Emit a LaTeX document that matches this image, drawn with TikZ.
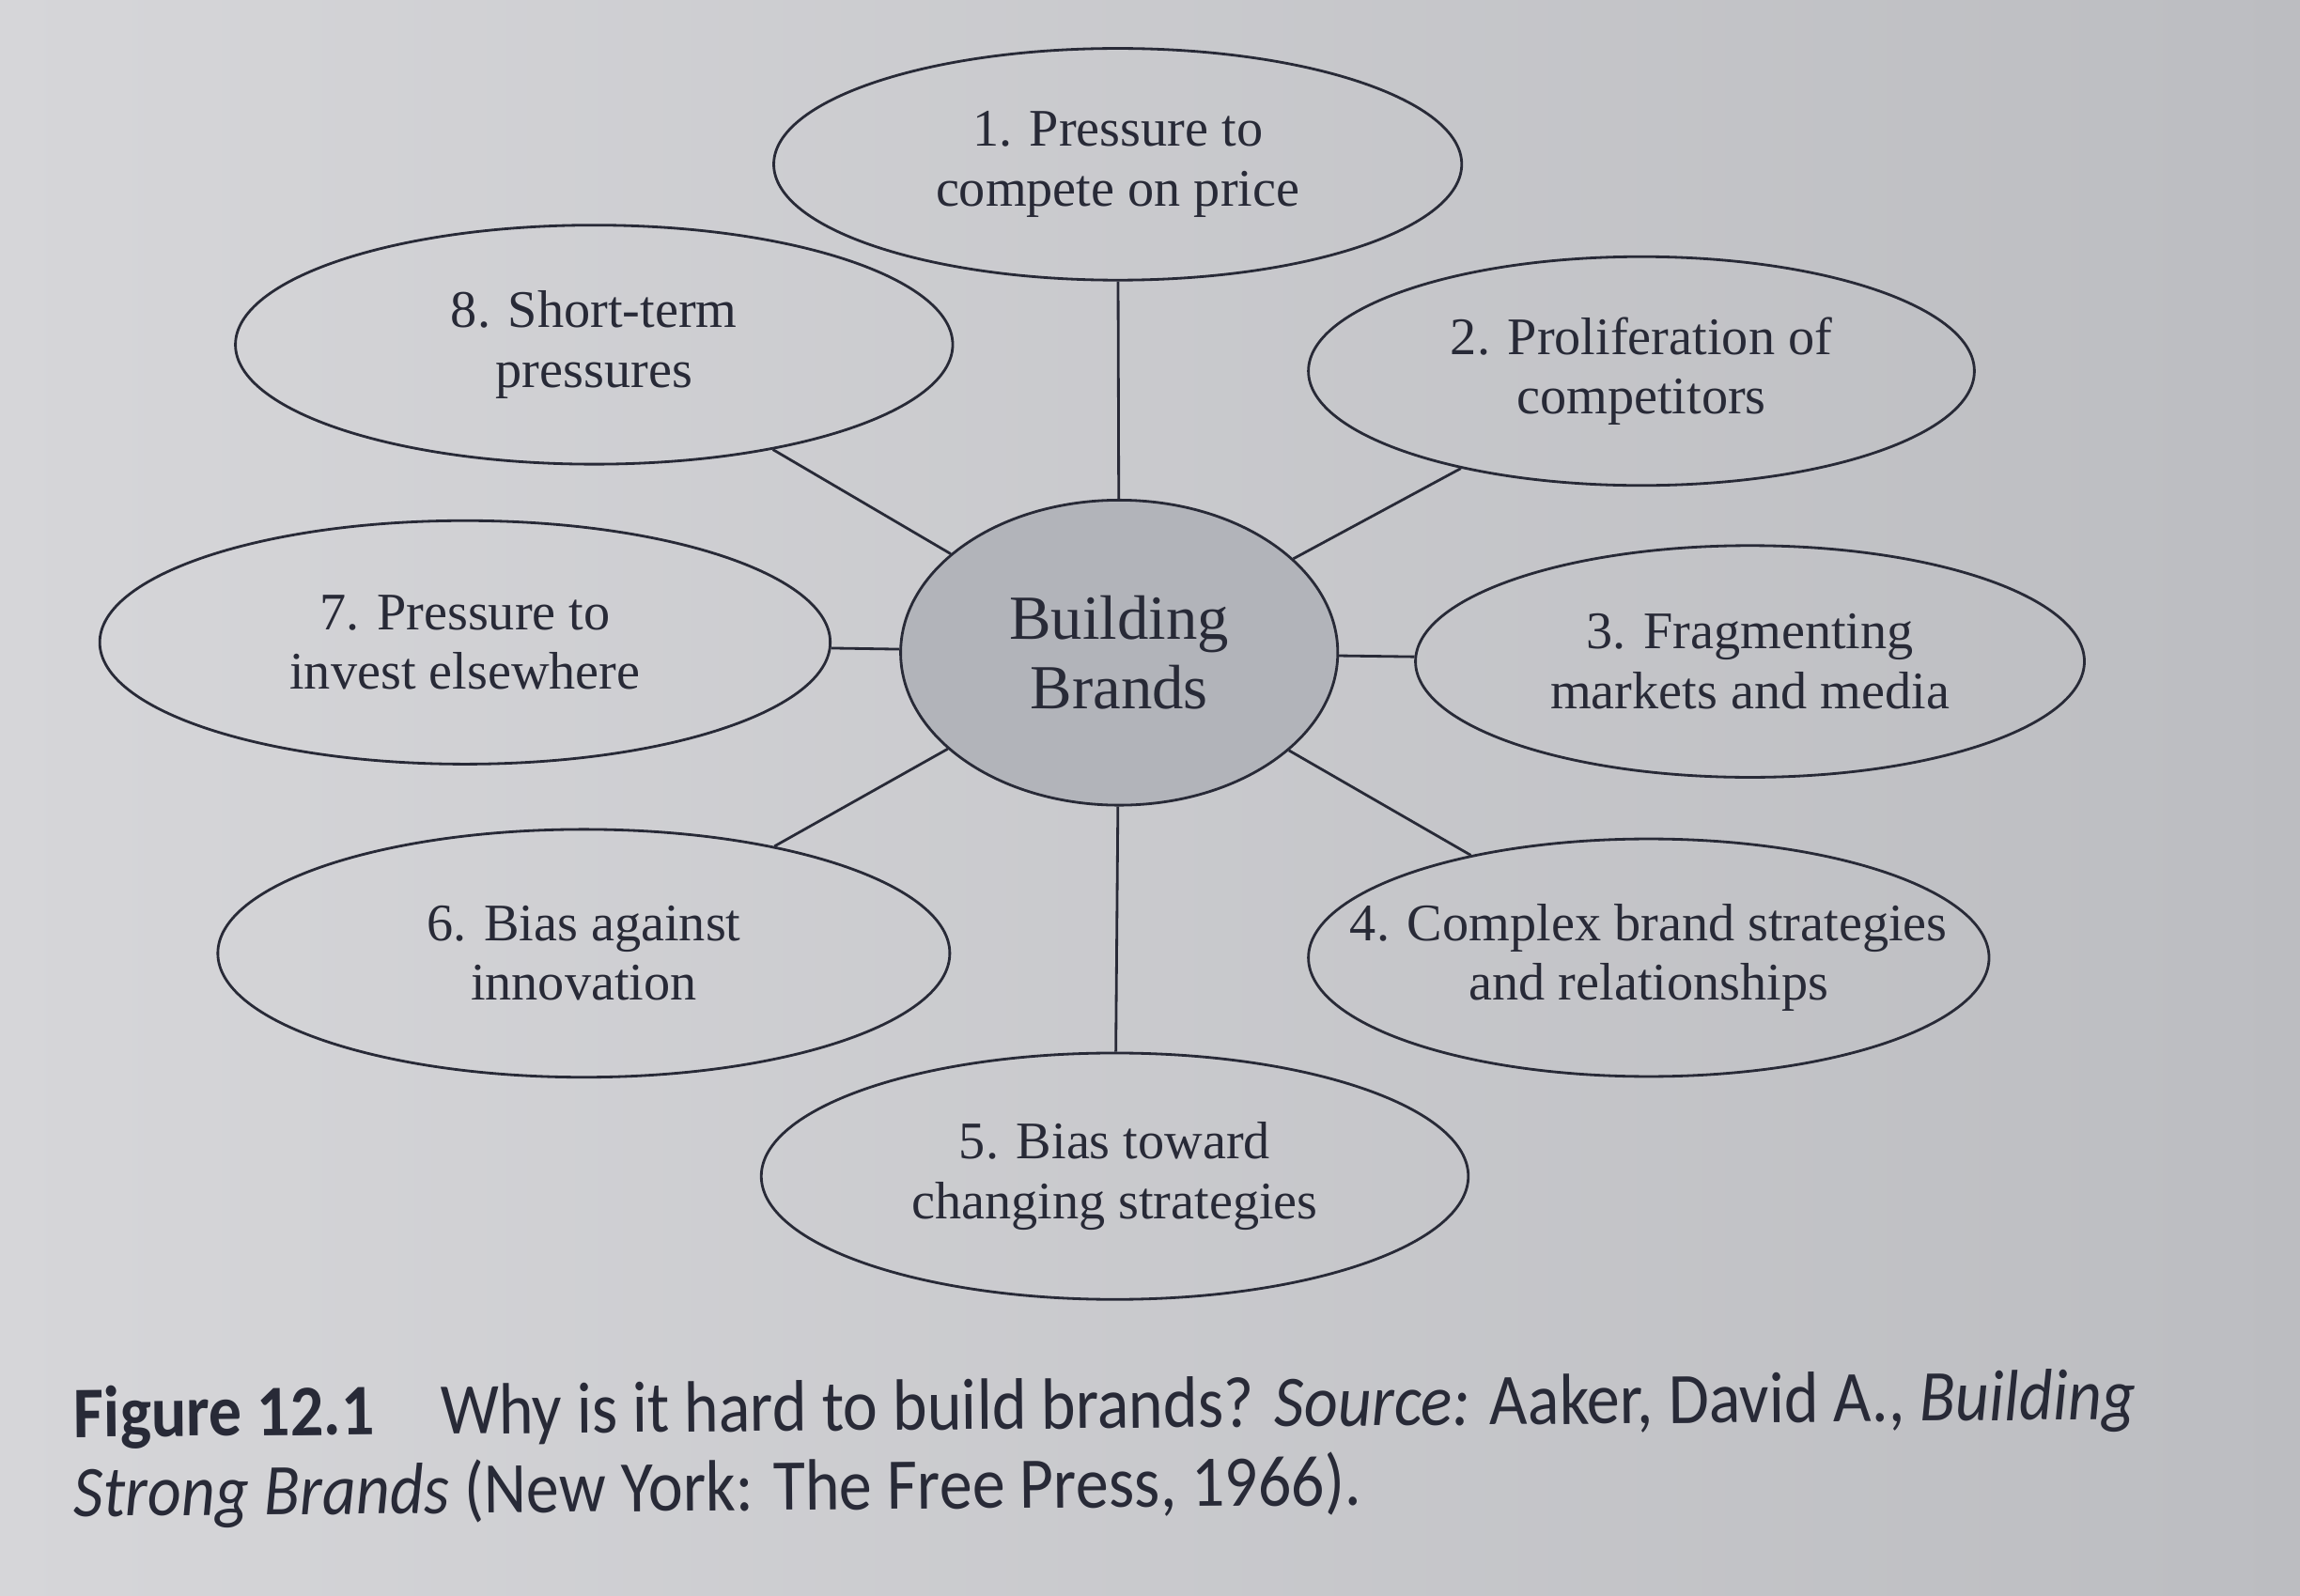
\documentclass[tikz,border=0pt]{standalone}
\usepackage{fontspec}
\setmainfont{Liberation Serif}
\newfontfamily\capfont{Carlito}
\usepackage{tikz}
\usetikzlibrary{shapes.geometric}
\definecolor{paperlight}{RGB}{214,214,217}
\definecolor{paperdark}{RGB}{188,189,193}
\definecolor{hubfill}{RGB}{178,180,186}
\definecolor{ink}{RGB}{40,42,55}

\begin{document}
\begin{tikzpicture}[x=0.015612cm, y=-0.015612cm,
	bubble/.style={ellipse, draw=ink, thick, inner sep=0pt, align=center, text=ink, font=\fontsize{16}{18}\selectfont},
	hub/.style={bubble, fill=hubfill, font=\fontsize{19}{21}\selectfont},
	spoke/.style={draw=ink, thick},
	capline/.style={anchor=base west, text=ink, inner sep=0pt, rotate=0.5, font=\capfont\fontsize{22}{24}\selectfont}]
	\shade [left color=paperlight, right color=paperdark] (0,0) rectangle (1568,1088);
	\useasboundingbox (0,0) rectangle (1568,1088);
	\node [hub, minimum width=298*0.015612cm, minimum height=208*0.015612cm] (brands) at (763,445) {Building\\Brands};
	\node [bubble, minimum width=469*0.015612cm, minimum height=158*0.015612cm] (price) at (762,112) {1. Pressure to\\compete on price};
	\node [bubble, minimum width=454*0.015612cm, minimum height=156*0.015612cm] (rivals) at (1119,253) {2. Proliferation of\\competitors};
	\node [bubble, minimum width=456*0.015612cm, minimum height=158*0.015612cm] (media) at (1193,451) {3. Fragmenting\\markets and media};
	\node [bubble, minimum width=464*0.015612cm, minimum height=162*0.015612cm] (complex) at (1124,653) {\makebox[0pt]{4. Complex brand strategies}\\\makebox[0pt]{and relationships}};
	\node [bubble, minimum width=482*0.015612cm, minimum height=168*0.015612cm] (change) at (760,802) {5. Bias toward\\changing strategies};
	\node [bubble, minimum width=499*0.015612cm, minimum height=169*0.015612cm] (innov) at (398,650) {6. Bias against\\innovation};
	\node [bubble, minimum width=498*0.015612cm, minimum height=166*0.015612cm] (invest) at (317,438) {7. Pressure to\\invest elsewhere};
	\node [bubble, minimum width=489*0.015612cm, minimum height=163*0.015612cm] (short) at (405,235) {8. Short-term\\pressures};
	% spokes
	\foreach \n in {price,rivals,media,complex,change,innov,invest,short}
		\draw [spoke] (brands) -- (\n);
	% caption
	\node [capline] (caption1) at (50,980)
		{\scalebox{0.905}[1]{\textbf{Figure 12.1}\quad Why is it hard to build brands? \textit{Source:} Aaker, David A., \textit{Building}}};
	\node [capline] (caption2) at (50,1034)
		{\scalebox{0.905}[1]{\textit{Strong Brands} (New York: The Free Press, 1966).}};
\end{tikzpicture}
\end{document}
